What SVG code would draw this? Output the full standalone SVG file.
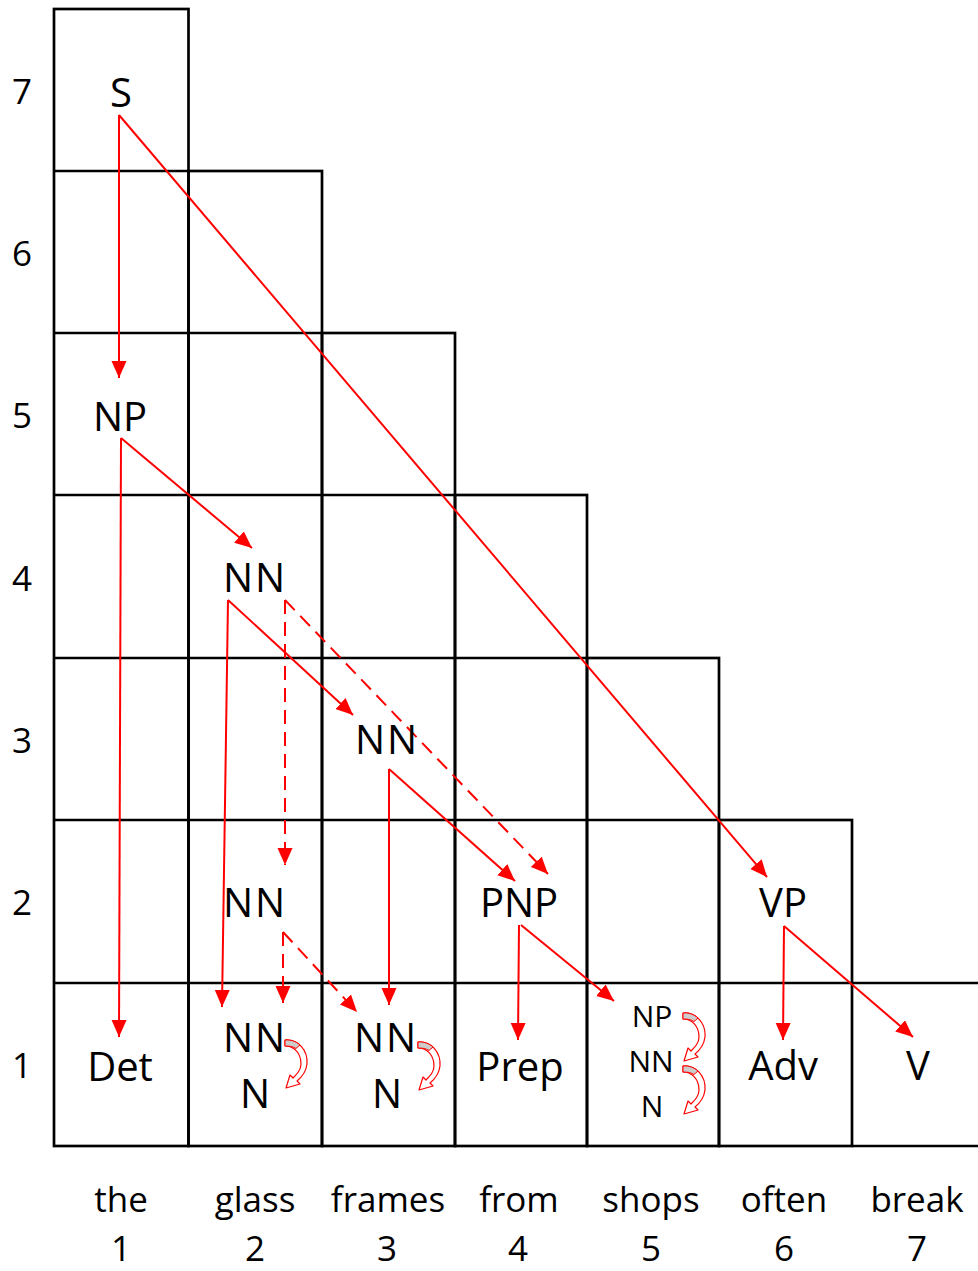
<svg xmlns="http://www.w3.org/2000/svg" xmlns:xlink="http://www.w3.org/1999/xlink" width="978" height="1271" viewBox="0 0 978 1271">
<style>
.grid line, .grid rect { stroke:#000; stroke-width:2.7; fill:none; }
.lbl { font-family:"Open Sans","Liberation Sans",sans-serif; font-size:40px; fill:#000; text-anchor:middle; }
.sm { font-size:30px; }
.ax { font-family:"Open Sans","Liberation Sans",sans-serif; font-size:35px; fill:#000; text-anchor:middle; }
.c { stroke:#ff0000; stroke-width:2; fill:none; marker-end:url(#ah); }
.d { stroke-dasharray:14 8; }
.curl { fill:#fff; stroke:#ff0000; stroke-width:1.2; stroke-linejoin:round; }
.curlsh { fill:#cccccc; stroke:#ff0000; stroke-width:1; }
</style>
<defs>
<marker id="ah" markerUnits="userSpaceOnUse" markerWidth="18" markerHeight="16" refX="17" refY="7.5" orient="auto">
<path d="M0,0 L17,7.5 L0,15 Z" fill="#ff0000"/>
</marker>
<g id="curlshape">
<path class="curl" d="M0,0 C13,-1 23,10 22,24 C21,32 17,37 12,41 L15,44 L1,48 L5,35 L8,38 C12,34 16,30 16,24 C16,13 9,6 0,6 Z"/>
<path class="curlsh" d="M0,0 C6,-0.5 11,1.5 15,5 L11,8.5 C8,6.5 5,6 0,6 Z"/>
</g>
</defs>
<rect width="978" height="1271" fill="#fff"/>
<g class="grid" id="grid">
<rect x="54" y="9" width="134.5" height="1137"/>
<line x1="54" y1="171" x2="188.5" y2="171"/>
<line x1="54" y1="333" x2="188.5" y2="333"/>
<line x1="54" y1="495" x2="188.5" y2="495"/>
<line x1="54" y1="658" x2="188.5" y2="658"/>
<line x1="54" y1="820" x2="188.5" y2="820"/>
<line x1="54" y1="983" x2="188.5" y2="983"/>
<rect x="188.5" y="171" width="133.5" height="975"/>
<line x1="188.5" y1="333" x2="322" y2="333"/>
<line x1="188.5" y1="495" x2="322" y2="495"/>
<line x1="188.5" y1="658" x2="322" y2="658"/>
<line x1="188.5" y1="820" x2="322" y2="820"/>
<line x1="188.5" y1="983" x2="322" y2="983"/>
<rect x="322" y="333" width="133" height="813"/>
<line x1="322" y1="495" x2="455" y2="495"/>
<line x1="322" y1="658" x2="455" y2="658"/>
<line x1="322" y1="820" x2="455" y2="820"/>
<line x1="322" y1="983" x2="455" y2="983"/>
<rect x="455" y="495" width="132" height="651"/>
<line x1="455" y1="658" x2="587" y2="658"/>
<line x1="455" y1="820" x2="587" y2="820"/>
<line x1="455" y1="983" x2="587" y2="983"/>
<rect x="587" y="658" width="132" height="488"/>
<line x1="587" y1="820" x2="719" y2="820"/>
<line x1="587" y1="983" x2="719" y2="983"/>
<rect x="719" y="820" width="133" height="326"/>
<line x1="719" y1="983" x2="852" y2="983"/>
<line x1="852" y1="983" x2="978" y2="983"/>
<line x1="852" y1="1146" x2="978" y2="1146"/>
</g>
<g id="rowlabels">
<text class="ax" x="22" y="104">7</text>
<text class="ax" x="22" y="266">6</text>
<text class="ax" x="22" y="428">5</text>
<text class="ax" x="22" y="591">4</text>
<text class="ax" x="22" y="753">3</text>
<text class="ax" x="22" y="915">2</text>
<text class="ax" x="22" y="1078">1</text>
</g>
<g id="words">
<text class="ax" x="121" y="1212">the</text>
<text class="ax" x="255" y="1212">glass</text>
<text class="ax" x="388" y="1212">frames</text>
<text class="ax" x="519" y="1212">from</text>
<text class="ax" x="651" y="1212">shops</text>
<text class="ax" x="784" y="1212">often</text>
<text class="ax" x="917" y="1212">break</text>
<text class="ax" x="121" y="1261">1</text>
<text class="ax" x="255" y="1261">2</text>
<text class="ax" x="387" y="1261">3</text>
<text class="ax" x="518" y="1261">4</text>
<text class="ax" x="651" y="1261">5</text>
<text class="ax" x="784" y="1261">6</text>
<text class="ax" x="917" y="1261">7</text>
</g>
<g id="connectors">
<line class="c" x1="119" y1="115" x2="119" y2="378"/>
<line class="c" x1="119" y1="115" x2="767" y2="877"/>
<line class="c" x1="121" y1="438" x2="119" y2="1037"/>
<line class="c" x1="121" y1="438" x2="252" y2="548"/>
<line class="c" x1="228" y1="600" x2="222" y2="1007"/>
<line class="c" x1="228" y1="600" x2="353" y2="715"/>
<line class="c d" x1="285" y1="600" x2="285" y2="865"/>
<line class="c d" x1="285" y1="600" x2="548" y2="874"/>
<line class="c" x1="389" y1="769" x2="389" y2="1005"/>
<line class="c" x1="389" y1="769" x2="515" y2="881"/>
<line class="c d" x1="283" y1="932" x2="283" y2="1003"/>
<line class="c d" x1="283" y1="932" x2="357" y2="1012"/>
<line class="c" x1="519" y1="925" x2="518" y2="1040"/>
<line class="c" x1="521" y1="925" x2="614" y2="1001"/>
<line class="c" x1="784" y1="926" x2="783" y2="1040"/>
<line class="c" x1="784" y1="926" x2="913" y2="1037"/>
<use xlink:href="#curlshape" href="#curlshape" transform="translate(285,1040)"/>
<use xlink:href="#curlshape" href="#curlshape" transform="translate(418,1042)"/>
<use xlink:href="#curlshape" href="#curlshape" transform="translate(683,1013)"/>
<use xlink:href="#curlshape" href="#curlshape" transform="translate(683,1066)"/>
</g>
<g id="node-S"><text class="lbl" x="121" y="107">S</text></g>
<g id="node-NP5"><text class="lbl" x="120" y="431">NP</text></g>
<g id="node-NN4"><text class="lbl" x="255" y="592" letter-spacing="2">NN</text></g>
<g id="node-NN3"><text class="lbl" x="387" y="754" letter-spacing="2">NN</text></g>
<g id="node-NN2"><text class="lbl" x="255" y="917" letter-spacing="2">NN</text></g>
<g id="node-PNP"><text class="lbl" x="519" y="917">PNP</text></g>
<g id="node-VP"><text class="lbl" x="783" y="917">VP</text></g>
<g id="node-Det"><text class="lbl" x="120" y="1081">Det</text></g>
<g id="node-NN1a"><text class="lbl" x="255" y="1052" letter-spacing="2">NN</text><text class="lbl" x="255" y="1108">N</text></g>
<g id="node-NN1b"><text class="lbl" x="386" y="1052" letter-spacing="2">NN</text><text class="lbl" x="387" y="1108">N</text></g>
<g id="node-Prep"><text class="lbl" x="520" y="1081">Prep</text></g>
<g id="node-shops"><text class="lbl sm" x="652" y="1027">NP</text><text class="lbl sm" x="651" y="1072">NN</text><text class="lbl sm" x="652" y="1117">N</text></g>
<g id="node-Adv"><text class="lbl" x="783" y="1080">Adv</text></g>
<g id="node-V"><text class="lbl" x="918" y="1080">V</text></g>
</svg>
